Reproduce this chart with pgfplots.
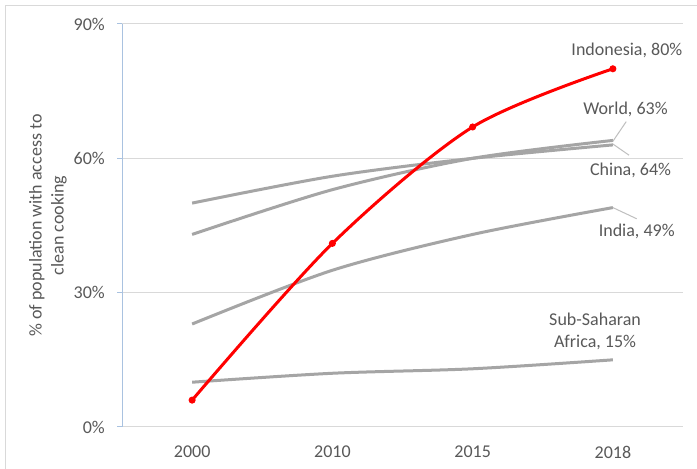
\documentclass[border=0pt]{standalone}
\usepackage{fontspec}
\setmainfont{Carlito}
\usepackage{pgfplots}
\pgfplotsset{compat=1.18}
\definecolor{txt}{HTML}{595959}
\definecolor{gridc}{HTML}{D9D9D9}
\definecolor{yaxc}{HTML}{A9C2E0}
\definecolor{ser}{HTML}{A5A5A5}
\definecolor{lead}{HTML}{BFBFBF}
\newcommand{\lblfont}{\fontsize{18bp}{21.7bp}\selectfont}
\begin{document}
\begin{tikzpicture}[x=1bp,y=1bp]
\useasboundingbox (0,0) rectangle (697,469);
\fill[white] (0,0) rectangle (697,469);
% chart area frame
\draw[gridc, line width=1bp] (5.5,0) -- (5.5,463.5) -- (697,463.5);
\begin{axis}[
  at={(122bp,42bp)}, anchor=south west,
  width=561bp, height=403bp, scale only axis,
  xmin=-0.5, xmax=3.5, ymin=0, ymax=90,
  xtick={0,1,2,3}, xticklabels={2000,2010,2015,2018},
  ytick={0,30,60,90}, yticklabels={0\%,30\%,60\%,90\%},
  axis x line*=bottom, axis y line*=left,
  x axis line style={gridc, line width=1bp, -},
  y axis line style={yaxc, line width=1bp, -},
  ymajorgrids, grid style={gridc, line width=1bp},
  xtick style={draw=none}, ytick style={yaxc, line width=1bp},
  tick align=outside, major tick length=5bp,
  ticklabel style={font=\lblfont, text=txt},
  xticklabel style={anchor=center, yshift=-20bp},
  yticklabel style={anchor=east, inner sep=0pt, xshift=-12bp},
  clip=false,
]
% World
\addplot[ser, line width=3bp, smooth, no markers] coordinates {(0,50) (1,56) (2,60) (3,63)};
% China
\addplot[ser, line width=3bp, smooth, no markers] coordinates {(0,43) (1,53) (2,60) (3,64)};
% India
\addplot[ser, line width=3bp, smooth, no markers] coordinates {(0,23) (1,35) (2,43) (3,49)};
% Sub-Saharan Africa
\addplot[ser, line width=3bp, smooth, no markers] coordinates {(0,10) (1,12) (2,13) (3,15)};
% Indonesia
\addplot[red, line width=3bp, smooth, mark=*, mark size=3bp,
  mark options={fill=red, draw=red, line width=1bp}] coordinates {(0,6) (1,41) (2,67) (3,80)};

% leader lines
\draw[lead, line width=1bp] (axis cs:3,63.8) -- (axis cs:3.095,68.2);
\draw[lead, line width=1bp] (axis cs:3,63.2) -- (axis cs:3.115,60.7);
\draw[lead, line width=1bp] (axis cs:3,49) -- (axis cs:3.17,46.5);

% data labels
\node[font=\lblfont, text=txt] at (axis cs:3.10,84.2) {Indonesia, 80\%};
\node[font=\lblfont, text=txt] at (axis cs:3.09,71.0) {World, 63\%};
\node[font=\lblfont, text=txt] at (axis cs:3.126,57.4) {China, 64\%};
\node[font=\lblfont, text=txt] at (axis cs:3.17,43.6) {India, 49\%};
\node[font=\lblfont, text=txt, align=center] at (axis cs:2.873,21.4) {Sub-Saharan\\Africa, 15\%};

% axis title
\node[font=\fontsize{18bp}{22bp}\selectfont, text=txt, align=center, rotate=90]
  at ([xshift=-74bp]rel axis cs:0,0.5) {\% of population with access to\\clean cooking};
\end{axis}
\end{tikzpicture}
\end{document}
